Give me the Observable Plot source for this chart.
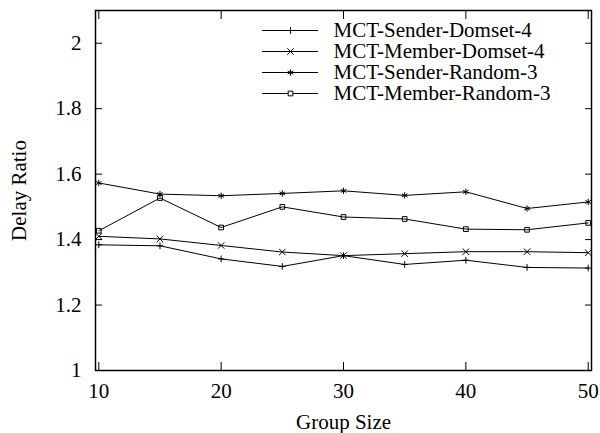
<!DOCTYPE html>
<html>
<head>
<meta charset="utf-8">
<script src="https://cdn.jsdelivr.net/npm/d3@7"></script>
<script src="https://cdn.jsdelivr.net/npm/@observablehq/plot@0.6"></script>
<style>
  html, body { margin: 0; padding: 0; background: #fff; }
  #wrap { position: relative; width: 600px; height: 433px; }
  #legend { position: absolute; left: 262px; top: 18px; }
  #wrap svg, #wrap svg text { font-family: 'Liberation Serif', 'Times New Roman', serif !important; font-size: 21px !important; }
</style>
</head>
<body>
<div id="wrap"><div id="chart"></div><div id="legend"></div></div>
<script>
const groupSizes = [10, 15, 20, 25, 30, 35, 40, 45, 50];
const senderDomset4 = [1.384, 1.381, 1.341, 1.318, 1.351, 1.324, 1.337, 1.315, 1.313];
const memberDomset4 = [1.410, 1.402, 1.382, 1.362, 1.351, 1.357, 1.363, 1.363, 1.360];
const senderRandom3 = [1.573, 1.539, 1.534, 1.541, 1.549, 1.535, 1.546, 1.495, 1.515];
const memberRandom3 = [1.427, 1.527, 1.437, 1.500, 1.469, 1.463, 1.432, 1.430, 1.451];
const seriesNames = ["MCT-Sender-Domset-4", "MCT-Member-Domset-4", "MCT-Sender-Random-3", "MCT-Member-Random-3"];
const seriesSymbols = ["plus", "times", "asterisk", "square2"];
const seriesR = [2.3, 3, 3, 3];
const xTicks = [10, 20, 30, 40, 50];
const yTicks = [1, 1.2, 1.4, 1.6, 1.8, 2];

const seriesValues = [senderDomset4, memberDomset4, senderRandom3, memberRandom3];
const rows = seriesNames.flatMap((name, i) =>
  groupSizes.map((g, j) => ({series: name, x: g, y: seriesValues[i][j]})));

const font = "font-family: 'Liberation Serif', serif; font-size: 21px; background: transparent; color: black;";

const marks = [
  Plot.frame({stroke: "black", strokeWidth: 1.5}),
  // inward ticks on all four sides
  Plot.axisX({anchor: "bottom", ticks: xTicks, tickSize: -8, text: null, label: null}),
  Plot.axisX({anchor: "top", ticks: xTicks, tickSize: -8, text: null, label: null}),
  Plot.axisY({anchor: "left", ticks: yTicks, tickSize: -7, text: null, label: null}),
  Plot.axisY({anchor: "right", ticks: yTicks, tickSize: -7, text: null, label: null}),
  // labels
  Plot.axisX({anchor: "bottom", ticks: xTicks, tickSize: 0, tickPadding: 13, tickFormat: d => String(d),
    label: "Group Size", labelAnchor: "center", labelArrow: "none", labelOffset: 58}),
  Plot.axisY({anchor: "left", ticks: yTicks, tickSize: 0, tickPadding: 14, tickFormat: d => String(d),
    label: "Delay Ratio", labelAnchor: "center", labelArrow: "none", labelOffset: 84.5}),
  Plot.line(rows, {x: "x", y: "y", z: "series", stroke: "black", strokeWidth: 1})
];
seriesNames.forEach((name, i) => {
  marks.push(Plot.dot(rows.filter(d => d.series === name), {
    x: "x", y: "y", symbol: () => seriesSymbols[i], r: seriesR[i], stroke: "black", fill: "none", strokeWidth: 1
  }));
});

const chart = Plot.plot({
  width: 600,
  height: 433,
  marginLeft: 95,
  marginRight: 9,
  marginTop: 10,
  marginBottom: 63,
  insetLeft: 3.3,
  insetRight: 3.3,
  style: font,
  x: {domain: [10, 50]},
  y: {domain: [1, 2.1]},
  symbol: {type: "identity"},
  marks
});
document.getElementById("chart").appendChild(chart);

const legend = Plot.plot({
  width: 330,
  height: 90,
  margin: 0,
  style: font,
  x: {domain: [0, 1], range: [0, 56], axis: null},
  y: {type: "point", domain: seriesNames, range: [10.7, 76], padding: 0, axis: null},
  symbol: {type: "identity"},
  marks: [
    Plot.ruleY(seriesNames, {y: d => d, x1: 0, x2: 1, stroke: "black", strokeWidth: 1}),
    ...seriesNames.map((name, i) => Plot.dot([name], {x: 0.5, y: d => d, symbol: () => seriesSymbols[i], r: seriesR[i], stroke: "black", fill: "white", strokeWidth: 1})),
    Plot.text(seriesNames, {x: 1, y: d => d, dx: 15, text: d => d, textAnchor: "start", fill: "black"})
  ]
});
document.getElementById("legend").appendChild(legend);
</script>
</body>
</html>
